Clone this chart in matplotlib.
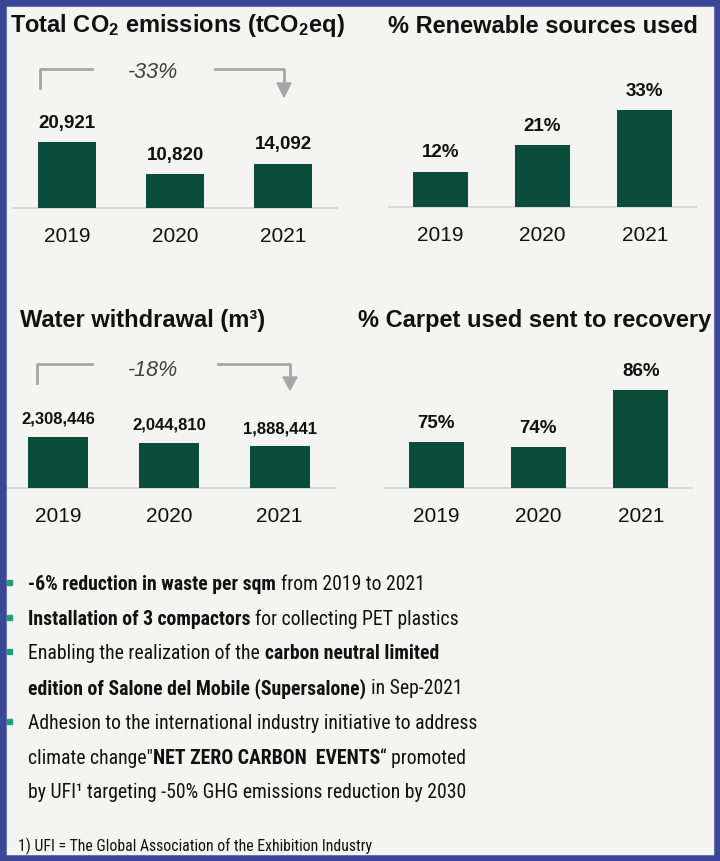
import matplotlib
matplotlib.use("Agg")
import matplotlib.pyplot as plt
from matplotlib import font_manager
from matplotlib.lines import Line2D
from matplotlib.patches import Polygon, Rectangle

W, H = 720, 861

# data
years = ["2019", "2020", "2021"]
co2 = [20921, 10820, 14092]
renewable = [12, 21, 33]
water = [2308446, 2044810, 1888441]
carpet = [75, 74, 86]
co2_change = "-33%"
water_change = "-18%"

bullets = [
    [("-6% reduction in waste per sqm", "bold", 1), ("from 2019 to 2021", "normal", 1)],
    [("Installation of 3 compactors", "bold", 1), ("for collecting PET plastics", "normal", 1)],
    [("Enabling the realization of the", "normal", 1), ("carbon neutral limited", "bold", 1)],
    [("edition of Salone del Mobile (Supersalone)", "bold", 1), ("in Sep-2021", "normal", 1)],
    [("Adhesion to the international industry initiative to address", "normal", 1)],
    [('climate change"', "normal", 1), ("NET ZERO CARBON  EVENTS", "bold", 0), ("\u201c promoted", "normal", 0)],
    [("by UFI\u00b9 targeting -50% GHG emissions reduction by 2030", "normal", 1)],
]
bullet_marks = [True, True, True, False, True, False, False]
footnote = "1) UFI = The Global Association of the Exhibition Industry"


def has_font(name):
    try:
        font_manager.findfont(font_manager.FontProperties(family=name), fallback_to_default=False)
        return True
    except Exception:
        return False


SANS = "Liberation Sans"
# the list text is set in a condensed Arial; use a narrow face if there is one
NARROW, BSIZE, FSIZE = SANS, 12.4, 10
for name in ["Liberation Sans Narrow", "Arial Narrow", "Roboto Condensed"]:
    if has_font(name):
        NARROW, BSIZE, FSIZE = name, 14.2, 11.3
        break

plt.rcParams["font.family"] = SANS
plt.rcParams["mathtext.fontset"] = "custom"
plt.rcParams["mathtext.rm"] = "Liberation Sans:bold"
plt.rcParams["mathtext.it"] = "Liberation Sans:bold"
plt.rcParams["mathtext.bf"] = "Liberation Sans:bold"

BAR = "#0b4d3b"
BG = "#f4f4f3"
BORDER = "#3a4696"
GRAY = "#a6a6a6"

fig = plt.figure(figsize=(W / 100, H / 100), dpi=100, facecolor=BG)


def fx(x):
    return x / W


def fy(y):
    return 1 - y / H


def px_axes(x0, y0, x1, y1):
    return fig.add_axes([fx(x0), fy(y1), (x1 - x0) / W, (y1 - y0) / H])


def bar_chart(box, values, ylim, labels, lab_size):
    ax = px_axes(*box)
    ax.set_facecolor("none")
    ax.bar(range(3), [v - ylim[0] for v in values], bottom=ylim[0], width=0.54, color=BAR, zorder=3)
    ax.set_xlim(-0.5, 2.5)
    ax.set_ylim(*ylim)
    ax.axhline(ylim[0], color="#d9d9d9", lw=1.5, zorder=2, clip_on=False)
    for s in ax.spines.values():
        s.set_visible(False)
    ax.set_yticks([])
    ax.set_xticks(range(3), years)
    ax.tick_params(axis="x", length=0, pad=14, labelsize=15, labelcolor="#111111")
    for i, (v, lab) in enumerate(zip(values, labels)):
        ax.annotate(lab, (i, v), xytext=(0, 7.5), textcoords="offset points",
                    ha="center", va="bottom", fontsize=lab_size, weight="bold", color="#111111")
    return ax


bar_chart((13, 60, 337, 208), co2, (0, 47000), [f"{v:,}" for v in co2], 13.5)
bar_chart((389, 60, 696, 207), renewable, (0, 50), [f"{v}%" for v in renewable], 13.5)
bar_chart((3, 340, 335, 488), water, (0, 6.73e6), [f"{v:,}" for v in water], 12)
bar_chart((385, 340, 692, 488), carpet, (65.37, 96.5), [f"{v}%" for v in carpet], 13.5)

# titles
tkw = dict(fontsize=17, weight="bold", va="baseline", color="#111111")
fig.text(fx(10), fy(32), "Total CO$_2$ emissions (tCO$_2$eq)", **tkw)
fig.text(fx(388), fy(33), "% Renewable sources used", **tkw)
fig.text(fx(20), fy(327), "Water withdrawal (m\u00b3)", **tkw)
fig.text(fx(358), fy(327), "% Carpet used sent to recovery", **tkw)


# change arrows
def change_arrow(xl, yt, yl, xm1, xm2, xr, yh, ytip, label, ly):
    kw = dict(color=GRAY, lw=2, transform=fig.transFigure)
    fig.add_artist(Line2D([fx(xl), fx(xl), fx(xm1)], [fy(yl), fy(yt), fy(yt)], **kw))
    fig.add_artist(Line2D([fx(xm2), fx(xr), fx(xr)], [fy(yt), fy(yt), fy(yh)], **kw))
    fig.add_artist(Polygon([(fx(xr - 7), fy(yh)), (fx(xr + 7), fy(yh)), (fx(xr), fy(ytip))],
                           closed=True, color=GRAY, transform=fig.transFigure))
    fig.text(fx(153), fy(ly), label, fontsize=15.5, style="italic", color="#404040",
             ha="center", va="center")


change_arrow(40, 69, 88, 92, 215, 284, 83, 97, co2_change, 72)
change_arrow(37, 364, 383, 92, 218, 290, 377, 390, water_change, 371)

# bullet text
renderer = fig.canvas.get_renderer()
space_px = BSIZE * 100 / 72 * 0.25
for i, (parts, mark) in enumerate(zip(bullets, bullet_marks)):
    base = 590 + i * 34.7
    if mark:
        fig.add_artist(Rectangle((fx(7), fy(base - 5)), 5 / W, 5 / H, color="#1f9e7c",
                                 transform=fig.transFigure))
    cx = 28
    first = True
    for text, weight, gap in parts:
        if not first:
            cx += space_px * gap
        first = False
        t = fig.text(fx(cx), fy(base), text, fontsize=BSIZE, weight=weight,
                     family=NARROW, va="baseline", ha="left", color="#111111")
        bb = t.get_window_extent(renderer=renderer)
        cx = bb.x1

fig.text(fx(18), fy(851), footnote, fontsize=FSIZE, family=NARROW, va="baseline", color="#111111")

# border
fig.add_artist(Rectangle((0, 0), 1, 1, fill=False, lw=9, edgecolor=BORDER,
                         transform=fig.transFigure))

fig.savefig("out.png", dpi=100, facecolor=BG)
